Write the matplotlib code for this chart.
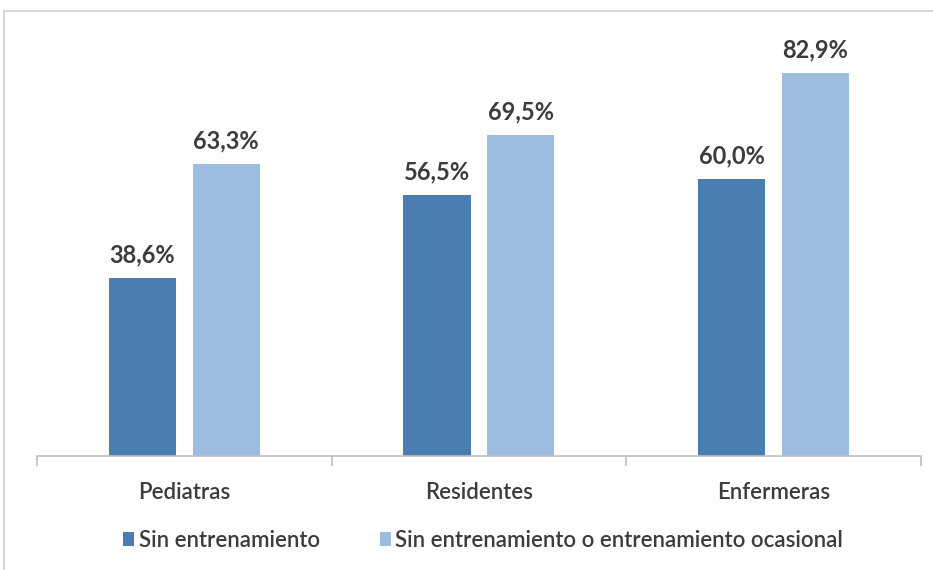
import matplotlib.pyplot as plt
import numpy as np
from matplotlib.patches import Rectangle

categories = ["Pediatras", "Residentes", "Enfermeras"]
sin_entrenamiento = [38.6, 56.5, 60.0]
sin_o_ocasional = [63.3, 69.5, 82.9]
series_names = ["Sin entrenamiento", "Sin entrenamiento o entrenamiento ocasional"]

dark = "#4a7db0"
light = "#9dbde0"
text_color = "#3c3c3c"

plt.rcParams["font.family"] = ["Lato", "DejaVu Sans"]

fig = plt.figure(figsize=(9.33, 5.70), dpi=100)
ax = fig.add_axes([0.0397, 0.2, 0.947, 0.7295])

x = np.arange(len(categories))
w = 0.228
off = 0.142
b1 = ax.bar(x - off, sin_entrenamiento, w, color=dark, label=series_names[0])
b2 = ax.bar(x + off, sin_o_ocasional, w, color=light, label=series_names[1])

for bars, vals in ((b1, sin_entrenamiento), (b2, sin_o_ocasional)):
    for rect, v in zip(bars, vals):
        ax.annotate(f"{v:.1f}%".replace(".", ","),
                    (rect.get_x() + rect.get_width() / 2, rect.get_height()),
                    xytext=(0, 8), textcoords="offset points",
                    ha="center", va="bottom", fontsize=17, fontweight="bold",
                    color=text_color)

ax.set_xlim(-0.5, 2.5)
ax.set_ylim(0, 90)
ax.set_yticks([])
for s in ("top", "right", "left"):
    ax.spines[s].set_visible(False)
ax.spines["bottom"].set_color("#bfbfbf")
ax.spines["bottom"].set_linewidth(1.2)

ax.set_xticks(x)
ax.set_xticklabels(categories, fontsize=16, color=text_color, fontweight="semibold")
ax.tick_params(axis="x", length=0, pad=19)
ax.set_xticks([-0.5, 0.5, 1.5, 2.5], minor=True)
ax.tick_params(axis="x", which="minor", length=7, color="#bfbfbf", width=1.2)

leg = fig.legend(handles=[b1, b2], loc="center", bbox_to_anchor=(0.518, 0.052), ncol=2,
                 frameon=False, prop={"size": 16, "weight": "semibold"},
                 handlelength=0.5, handleheight=0.6,
                 handletextpad=0.2, columnspacing=2.7, labelcolor=text_color)

# outer frame of the original image
fig.patches.append(Rectangle((4 / 933, -0.1), 1.2, 1 - 11 / 570 + 0.1,
                             transform=fig.transFigure, fill=False,
                             edgecolor="#d0d0d0", linewidth=1.2))

fig.savefig("out.png", dpi=100)
